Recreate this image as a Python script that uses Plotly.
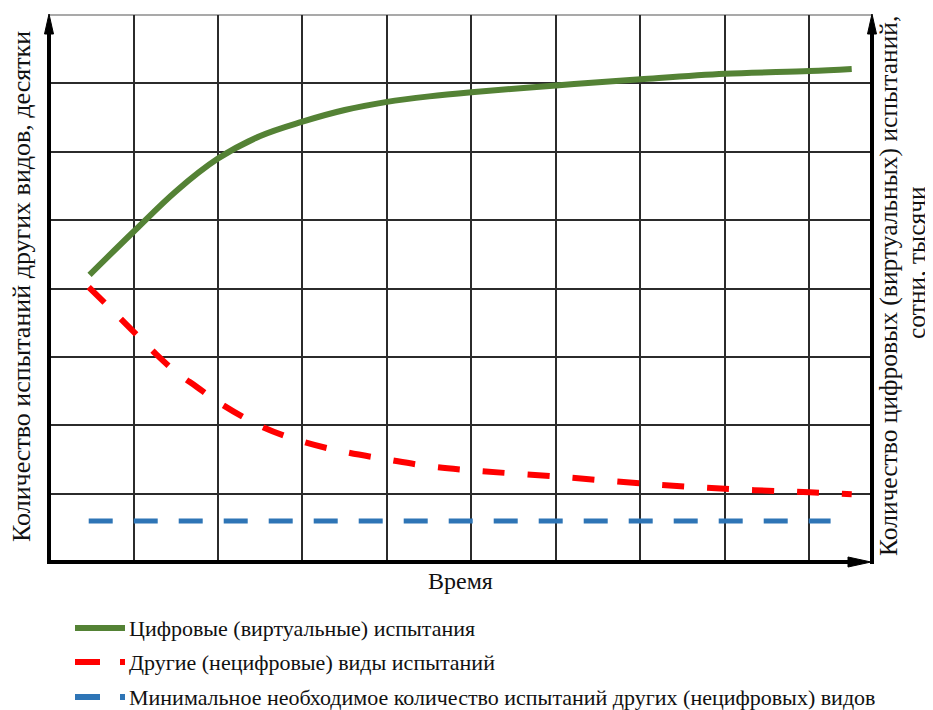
import plotly.graph_objects as go

# ---------------- data (grid units) ----------------
digital_x = [0.48, 1.0, 1.5, 2.0, 2.5, 3.0, 3.5, 4.0, 4.5, 5.0, 6.0, 7.0, 8.0, 9.0, 9.5]
digital_y = [4.2, 4.83, 5.42, 5.9, 6.23, 6.44, 6.61, 6.73, 6.81, 6.87, 6.97, 7.06, 7.14, 7.18, 7.21]

other_x = [0.47, 0.75, 1.0, 1.25, 1.5, 1.75, 2.0, 2.5, 3.0, 3.5, 4.0, 4.5, 5.0, 6.0, 7.0, 8.0, 9.0, 9.5]
other_y = [4.02, 3.68, 3.37, 3.06, 2.78, 2.56, 2.34, 1.99, 1.76, 1.61, 1.50, 1.40, 1.34, 1.25, 1.15, 1.07, 1.02, 0.99]

minimum_x = [0.47, 9.25]
minimum_y = [0.6, 0.6]

series_names = [
    "Цифровые (виртуальные) испытания",
    "Другие (нецифровые) виды испытаний",
    "Минимальное необходимое количество испытаний других (нецифровых) видов",
]
x_title = "Время"
y_title_left = "Количество испытаний других видов, десятки"
y_title_right_1 = "Количество цифровых (виртуальных) испытаний,"
y_title_right_2 = "сотни, тысячи"

x_grid = [1, 2, 3, 4, 5, 6, 7, 8, 9]
y_grid = [1, 2, 3, 4, 5, 6, 7]
x_max = 9.74
y_max = 8

# ---------------- styling / layout ----------------
GREEN = "#548235"
RED = "#ff0000"
BLUE = "#2e75b6"
FONT = "Liberation Serif"

OFF = 8  # page body margin
W_PX, H_PX = 933 - OFF, 710 - OFF
L, R, T, B = 49, 872, 15, 562  # plot area in page pixels


def px(x):
    return (x - L) / (R - L)


def py(y):
    return (B - y) / (B - T)


fig = go.Figure()
fig.add_trace(go.Scatter(x=digital_x, y=digital_y, mode="lines", name=series_names[0],
                         line=dict(color=GREEN, width=6, shape="spline")))
fig.add_trace(go.Scatter(x=other_x, y=other_y, mode="lines", name=series_names[1],
                         line=dict(color=RED, width=6, shape="spline", dash="22px,23px")))
fig.add_trace(go.Scatter(x=minimum_x, y=minimum_y, mode="lines", name=series_names[2],
                         line=dict(color=BLUE, width=5, dash="24px,21px")))

shapes = []
# top border
shapes.append(dict(type="line", xref="paper", yref="paper", x0=0, x1=1, y0=1, y1=1,
                   line=dict(color="#8c8c8c", width=1.5), layer="below"))
# left axis with arrow
shapes.append(dict(type="line", xref="paper", yref="paper", x0=px(49), x1=px(49), y0=py(564), y1=py(30),
                   line=dict(color="black", width=4)))
shapes.append(dict(type="path", xref="paper", yref="paper",
                   path=f"M{px(49)},{py(14)} L{px(44.5)},{py(34)} L{px(53.5)},{py(34)} Z",
                   fillcolor="black", line=dict(color="black", width=1)))
# right axis with arrow
shapes.append(dict(type="line", xref="paper", yref="paper", x0=px(872), x1=px(872), y0=py(564), y1=py(30),
                   line=dict(color="black", width=4)))
shapes.append(dict(type="path", xref="paper", yref="paper",
                   path=f"M{px(872)},{py(14)} L{px(867.5)},{py(34)} L{px(876.5)},{py(34)} Z",
                   fillcolor="black", line=dict(color="black", width=1)))
# bottom axis with arrow
shapes.append(dict(type="line", xref="paper", yref="paper", x0=px(47), x1=px(852), y0=0, y1=0,
                   line=dict(color="black", width=4)))
shapes.append(dict(type="path", xref="paper", yref="paper",
                   path=f"M{px(871)},{py(562)} L{px(848)},{py(557)} L{px(848)},{py(567)} Z",
                   fillcolor="black", line=dict(color="black", width=1)))

# legend samples
legend_rows = [628, 662, 697]
shapes.append(dict(type="line", xref="paper", yref="paper", x0=px(75), x1=px(125),
                   y0=py(legend_rows[0]), y1=py(legend_rows[0]), line=dict(color=GREEN, width=6)))
shapes.append(dict(type="line", xref="paper", yref="paper", x0=px(75), x1=px(125),
                   y0=py(legend_rows[1]), y1=py(legend_rows[1]), line=dict(color=RED, width=6, dash="25px,20px")))
shapes.append(dict(type="line", xref="paper", yref="paper", x0=px(75), x1=px(125),
                   y0=py(legend_rows[2]), y1=py(legend_rows[2]), line=dict(color=BLUE, width=6, dash="25px,20px")))

annotations = []
for name, row in zip(series_names, legend_rows):
    annotations.append(dict(text=name, xref="paper", yref="paper", x=px(127), y=py(row),
                            xanchor="left", yanchor="middle", showarrow=False,
                            font=dict(family=FONT, size=22, color="#111")))

annotations.append(dict(text=x_title, xref="paper", yref="paper", x=px(460), y=py(581),
                        xanchor="center", yanchor="middle", showarrow=False,
                        font=dict(family=FONT, size=24, color="#111")))
annotations.append(dict(text=y_title_left, xref="paper", yref="paper", x=px(21), y=py(287),
                        xanchor="center", yanchor="middle", showarrow=False, textangle=-90,
                        font=dict(family=FONT, size=26, color="#111")))
annotations.append(dict(text=y_title_right_1, xref="paper", yref="paper", x=px(888), y=py(286),
                        xanchor="center", yanchor="middle", showarrow=False, textangle=-90,
                        font=dict(family=FONT, size=25.5, color="#111")))
annotations.append(dict(text=y_title_right_2, xref="paper", yref="paper", x=px(916), y=py(263),
                        xanchor="center", yanchor="middle", showarrow=False, textangle=-90,
                        font=dict(family=FONT, size=25.5, color="#111")))

fig.update_layout(
    width=W_PX, height=H_PX,
    margin=dict(l=L - OFF, r=(W_PX + OFF) - R, t=T - OFF, b=(H_PX + OFF) - B),
    paper_bgcolor="white", plot_bgcolor="white",
    showlegend=False,
    shapes=shapes, annotations=annotations,
    xaxis=dict(range=[0, x_max], tickvals=x_grid, showticklabels=False, ticks="",
               showgrid=True, gridcolor="#2b2b2b", gridwidth=1.5, zeroline=False, showline=False,
               fixedrange=True),
    yaxis=dict(range=[0, y_max], tickvals=y_grid, showticklabels=False, ticks="",
               showgrid=True, gridcolor="#2b2b2b", gridwidth=1.5, zeroline=False, showline=False,
               fixedrange=True),
)

fig.write_html("out.html", config={"displayModeBar": False})
